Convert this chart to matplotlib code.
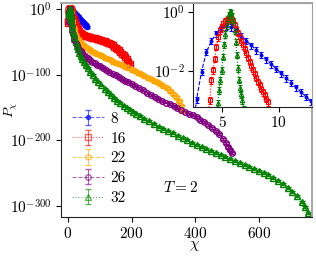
import matplotlib
matplotlib.use("Agg")
import matplotlib.pyplot as plt
from matplotlib.collections import LineCollection
from matplotlib.lines import Line2D
import numpy as np

plt.rcParams["font.family"] = "serif"
plt.rcParams["font.serif"] = ["cmr10"]
plt.rcParams["mathtext.fontset"] = "cm"
plt.rcParams["axes.formatter.use_mathtext"] = True
plt.rcParams["axes.unicode_minus"] = False

# chi values and log10(P_chi), one pair of lists per L
chi8 = [1.86, 2.30, 2.74, 3.18, 3.62, 4.06, 4.50, 4.94, 5.38, 5.82, 6.26, 6.70, 7.14, 7.58,
        8.02, 8.46, 8.90, 9.34, 9.78, 10.22, 10.66, 11.10, 11.54, 11.98, 12.42, 12.86,
        14, 16, 18, 20, 22, 24, 26, 28, 30, 32, 34, 36, 38, 40, 42, 44, 46, 48, 50, 52,
        54, 56, 58, 60]
logp8 = [-6.5, -4.5, -2.98, -2.03, -1.35, -0.97, -0.72, -0.55, -0.47, -0.50, -0.62, -0.80,
         -0.97, -1.13, -1.29, -1.45, -1.61, -1.77, -1.93, -2.09, -2.25, -2.41, -2.57, -2.73,
         -2.89, -3.05, -3.5, -4.4, -5.3, -6.2, -7.2, -8.1, -9.1, -10.1, -11.1, -12.2, -13.3,
         -14.4, -15.5, -16.6, -17.7, -18.8, -19.9, -21.0, -22.0, -23.0, -24.0, -25.0,
         -26.0, -27.0]

chi16 = [1.0, 1.5, 2.0, 2.5, 3.0, 3.5, 3.91, 4.06, 4.20, 4.36, 4.50, 4.65, 4.80, 4.95,
         5.09, 5.24, 5.39, 5.54, 5.68, 5.83, 5.98, 6.12, 6.27, 6.42, 6.56, 6.71, 6.86,
         7.00, 7.15, 7.30, 7.45, 7.59, 7.74, 7.89, 8.03, 8.18, 8.33, 8.48, 8.62, 8.77,
         8.92, 9.06, 10, 11, 12, 14, 16, 18, 20, 22, 25, 28, 31, 35, 40, 45, 50, 55, 60,
         65, 70, 75, 80, 85, 90, 95, 100, 105, 110, 115, 120, 125, 130, 135, 140, 145,
         150, 155, 160, 165, 170, 175, 180, 185, 190, 195]
logp16 = [-22, -18, -14, -10, -7, -4.5, -3.0, -2.32, -1.98, -1.58, -1.18, -0.84, -0.61,
          -0.48, -0.38, -0.30, -0.26, -0.22, -0.21, -0.23, -0.30, -0.43, -0.56, -0.70,
          -0.84, -0.98, -1.12, -1.26, -1.40, -1.55, -1.69, -1.84, -1.98, -2.11, -2.24,
          -2.37, -2.49, -2.61, -2.73, -2.84, -2.95, -3.07, -3.9, -5.0, -6.3, -9, -12, -15,
          -18, -20.5, -24, -27.5, -30.5, -33.5, -36, -38, -39.5, -40.5, -41.5, -42.3, -43,
          -43.6, -44.2, -44.8, -45.4, -46, -46.7, -47.5, -48.3, -49.2, -50.2, -51.3,
          -52.5, -54, -55.5, -57.2, -59, -61, -63, -65.3, -67.8, -70.5, -73.5, -76.5,
          -80, -84]

chi22 = [3.0, 3.5, 4.0, 4.5, 5.0, 5.5, 6.0, 6.5, 7.0, 7.5, 8, 9, 10, 11, 12, 14, 16, 18,
         20, 23, 26, 30, 34, 38, 42, 46, 50, 55, 60, 66, 72, 78, 85, 92, 100, 108, 116,
         125, 134, 143, 152, 161, 170, 180, 190, 200, 210, 220, 230, 240, 250, 260, 270,
         280, 290, 300, 310, 320, 330, 340, 348, 354, 358]
logp22 = [-15, -9, -4.5, -1.6, -0.3, 0.0, -0.3, -1.3, -2.7, -4.2, -5.8, -9, -12, -15, -18,
          -23, -27, -31, -34, -38, -41.5, -45, -48, -50.5, -52.5, -54.3, -56, -58, -59.8,
          -61.6, -63.3, -65, -66.6, -68.2, -70, -72, -74, -76, -78, -80, -82, -84, -86,
          -88.3, -90.5, -92.7, -95, -97.3, -99.6, -102, -104.4, -106.8, -109.3, -111.9,
          -114.6, -117.5, -120.8, -124.5, -128.8, -134, -140, -147, -156]

chi26 = [3.0, 3.5, 4.0, 4.5, 5.0, 5.5, 6.0, 6.5, 7.0, 7.5, 8, 9, 10, 11, 12, 14, 16, 18,
         20, 24, 28, 32, 36, 40, 45, 50, 56, 62, 69, 76, 84, 92, 100, 110, 120, 130, 140,
         150, 160, 170, 180, 190, 200, 212, 224, 236, 248, 260, 272, 284, 296, 308, 320,
         332, 344, 356, 368, 380, 392, 404, 416, 428, 440, 452, 464, 476, 487, 496, 504,
         510, 516]
logp26 = [-20, -13, -7, -2.8, -0.6, 0.0, -0.4, -1.8, -3.8, -6, -8.5, -13, -17.5, -22, -26,
          -33, -38.5, -43, -46.5, -51.5, -55.5, -59, -62, -64.5, -67.3, -70, -72.8, -75.3,
          -78, -80.5, -83, -85.3, -87.5, -90.3, -93, -95.7, -98.3, -101, -103.7, -106.4,
          -109, -111.7, -114.3, -117.5, -120.7, -124, -127.2, -130.4, -133.5, -136.6,
          -139.5, -142.4, -145.2, -148, -150.8, -153.6, -156.4, -159.2, -162, -165,
          -168.3, -172, -176, -180.5, -185.5, -191, -197.5, -204, -210, -215, -220]

chi32 = [4.0, 4.2, 4.4, 4.6, 4.74, 4.80, 4.95, 5.09, 5.2, 5.3, 5.4, 5.5, 5.6, 5.7, 5.8,
         5.9, 6.0, 6.1, 6.2, 6.3, 6.4, 6.5, 6.6, 6.7, 6.8, 6.9, 7.0, 7.5, 8, 9, 10, 11, 12,
         14, 16, 18, 20, 24, 28, 32, 36, 40, 45, 50, 56, 62, 70, 78, 86, 95, 105, 115, 125,
         135, 145, 155, 165, 175, 185, 195, 205, 215, 226, 240, 255, 270, 285, 300, 315,
         330, 345, 360, 375, 390, 405, 420, 435, 450, 465, 480, 495, 510, 525, 540, 555,
         570, 585, 600, 615, 630, 645, 660, 675, 690, 705, 720, 735, 745, 754]
logp32 = [-9, -6.5, -4.5, -3.1, -2.66, -2.32, -1.98, -1.52, -1.1, -0.75, -0.45, -0.22,
          -0.07, 0.02, 0.0, -0.12, -0.3, -0.6, -1.0, -1.45, -1.9, -2.3, -2.6, -2.8, -3.0,
          -3.3, -3.6, -5.2, -7, -10.5, -14, -17.5, -21, -27.5, -33, -38, -42.5, -50, -56,
          -61.5, -66.5, -71, -76, -80.5, -85.5, -90, -95.5, -101, -106, -111, -116.5,
          -121.5, -126.5, -131, -135.5, -139.5, -143.5, -147, -150.5, -154, -157, -160,
          -163, -167, -171, -175, -179, -182.5, -186, -189.5, -193, -196.5, -200, -203.5,
          -207, -210.5, -213.5, -216.5, -219.5, -222.5, -225.5, -228.5, -231.5, -234.5,
          -237.5, -240.5, -243.5, -246.5, -249.5, -253, -257, -261.5, -266.5, -272, -278,
          -285, -294, -302, -311]

labels = ["8", "16", "22", "26", "32"]
series = [(chi8, logp8), (chi16, logp16), (chi22, logp22), (chi26, logp26), (chi32, logp32)]
colors = ["blue", "red", "orange", "purple", "green"]
markers = ["o", "s", "p", "o", "^"]
fills = ["blue", "none", "none", "none", "none"]
lstyles = ["--", ":", "--", "--", ":"]
msizes = [3.0, 4.0, 4.2, 4.0, 4.2]
inset_msizes = [2.0, 3.0, 3.0, 3.0, 3.2]
inset_sel = [0, 1, 4]

fig = plt.figure(figsize=(3.16, 2.56), dpi=100)
ax = fig.add_axes([61 / 316, 1 - 217 / 256, 251 / 316, 214 / 256])

for (x, y), lab, c, m, mf, ls, ms in zip(series, labels, colors, markers, fills, lstyles, msizes):
    ax.errorbar(x, y, yerr=1.5, color=c, marker=m, mfc=mf, ms=ms, mew=1.0,
                ls=ls, lw=0.8, elinewidth=0.8, capsize=2, label=lab)

ax.set_xlim(-22, 767)
ax.set_ylim(-316.7, 9.1)
ax.set_xticks([0, 200, 400, 600])
ax.set_yticks([0, -100, -200, -300])
ax.set_yticklabels([r"$10^{0}$", r"$10^{-100}$", r"$10^{-200}$", r"$10^{-300}$"])
ax.tick_params(labelsize=11, direction="out", length=3.5, width=0.8, pad=3)
ax.set_xlabel(r"$\chi$", fontsize=11)
ax.set_ylabel(r"$P_\chi$", fontsize=10)
ax.xaxis.set_label_coords(0.534, -0.105)
ax.yaxis.set_label_coords(-0.163, 0.5)
ax.text(0.405, 0.136, r"$T = 2$", transform=ax.transAxes, fontsize=11, va="center")

ax.spines["left"].set_color("#222222")
ax.spines["bottom"].set_color("#222222")
ax.spines["top"].set_color("#a0a0a0")
ax.spines["right"].set_color("#a0a0a0")
ax.spines["top"].set_linewidth(1.3)
ax.spines["right"].set_linewidth(1.3)

leg = ax.legend(loc="upper left", bbox_to_anchor=(72 / 316, 1 - 112 / 256),
                bbox_transform=fig.transFigure, frameon=False, fontsize=11,
                handlelength=2.1, handletextpad=0.4, labelspacing=0.4,
                borderpad=0, borderaxespad=0)
for art in leg.findobj(Line2D) + leg.findobj(LineCollection):
    art.set_alpha(0.6)

# inset: zoom near the peak
axin = fig.add_axes([192.7 / 316, 1 - 107 / 256, 119.3 / 316, 104 / 256])
for i in inset_sel:
    x, y = series[i]
    p = 10.0 ** np.array(y)
    axin.errorbar(x, p, yerr=0.25 * p, color=colors[i], marker=markers[i], mfc=fills[i],
                  ms=inset_msizes[i], mew=0.8, ls=lstyles[i], lw=0.8, elinewidth=0.8,
                  capsize=1.5)
axin.set_yscale("log")
axin.set_xlim(2.4, 12.95)
axin.set_ylim(10 ** -3.24, 10 ** 0.32)
axin.set_xticks([5, 10])
axin.set_yticks([1, 1e-2])
axin.yaxis.set_minor_locator(matplotlib.ticker.NullLocator())
axin.tick_params(labelsize=11, direction="out", length=3.5, width=0.8, pad=2)
axin.spines["left"].set_color("#222222")
axin.spines["bottom"].set_color("#222222")
axin.spines["top"].set_color("#a0a0a0")
axin.spines["right"].set_color("#a0a0a0")

fig.savefig("out.png", dpi=100)
